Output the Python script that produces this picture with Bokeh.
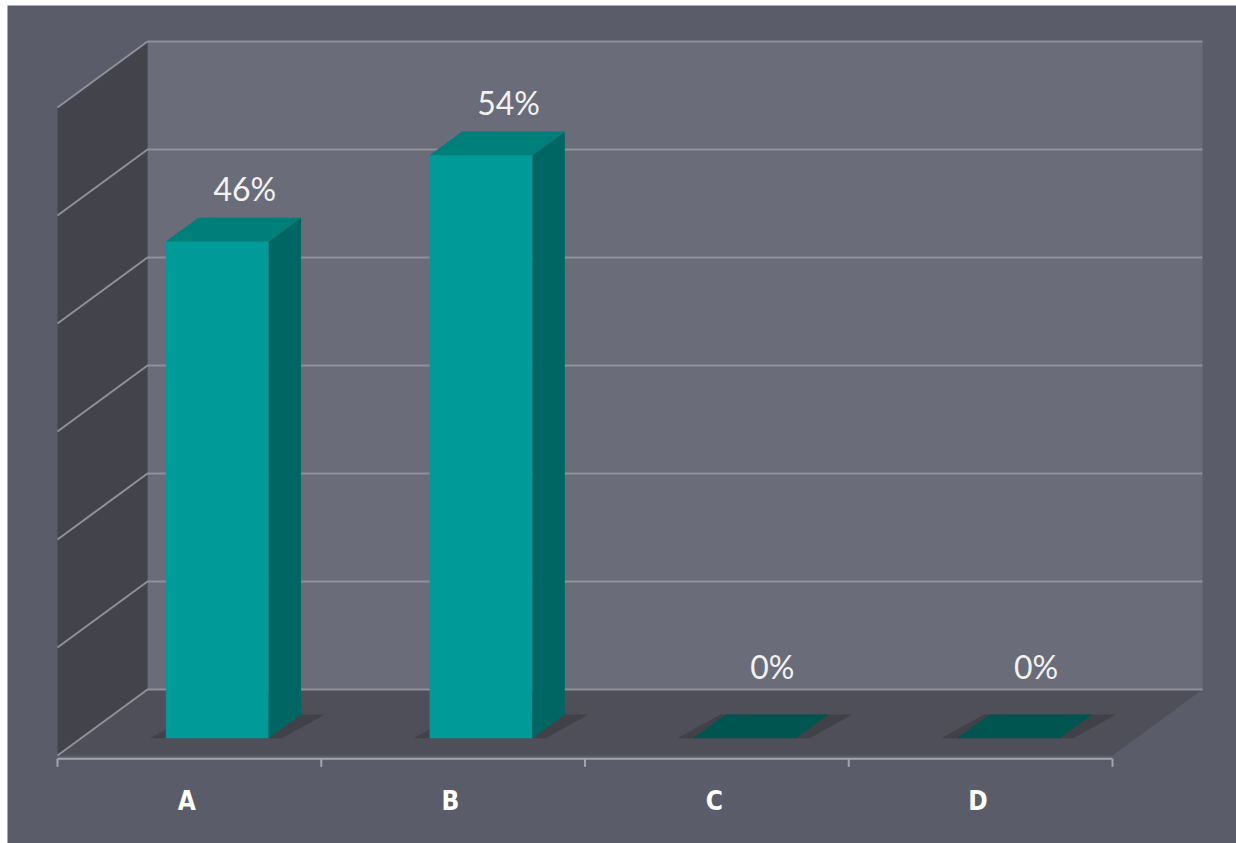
from bokeh.plotting import figure
from bokeh.models import Range1d, ColumnDataSource
from bokeh.core.properties import value
from bokeh.embed import file_html
from bokeh.resources import INLINE

# ---- data ----
categories = ["A", "B", "C", "D"]
percent_values = [46, 54, 0, 0]
value_labels = ["46%", "54%", "0%", "0%"]
grid_ticks = [0, 10, 20, 30, 40, 50, 60]
v_max = 60

# ---- projection / style constants (oblique 3D) ----
PX_PER_CAT = 263.75
PX_PER_PCT = 10.8
DEPTH_X = 90 / PX_PER_CAT      # category units per unit depth
DEPTH_Y = 66 / PX_PER_PCT      # percent units per unit depth
BAR_HALF = 0.195
BAR_SHIFT = 0.017
Z0, Z1 = 0.26, 0.62
N = len(categories)

def proj(x, v, z):
    return x + z * DEPTH_X, v + z * DEPTH_Y

def quad(pts):
    xs, ys = [], []
    for (x, v, z) in pts:
        a, b = proj(x, v, z)
        xs.append(a)
        ys.append(b)
    return xs, ys

W, H = 1236, 843
LEFT_M, TOP_M = 7, 5
x0_px, y0_px = 57, 755
x_start = (LEFT_M - x0_px) / PX_PER_CAT
x_end = (W - x0_px) / PX_PER_CAT
y_end = (y0_px - TOP_M) / PX_PER_PCT
y_start = (y0_px - H) / PX_PER_PCT

p = figure(width=W, height=H, output_backend="svg", toolbar_location=None,
           x_range=Range1d(x_start, x_end), y_range=Range1d(y_start, y_end),
           min_border_left=LEFT_M, min_border_top=TOP_M,
           min_border_right=0, min_border_bottom=0)
p.xaxis.visible = False
p.yaxis.visible = False
p.grid.visible = False
p.outline_line_color = None
p.background_fill_color = "#5b5c69"
p.border_fill_color = "#ffffff"

BG_WALL = "#6b6c79"
LEFT_WALL = "#43444b"
FLOOR = "#4e4f58"
GRID = "#8f909b"

# back wall
xs, ys = quad([(0, 0, 1), (N, 0, 1), (N, v_max, 1), (0, v_max, 1)])
p.patch(xs, ys, fill_color=BG_WALL, line_color=None)
# left wall
xs, ys = quad([(0, 0, 0), (0, 0, 1), (0, v_max, 1), (0, v_max, 0)])
p.patch(xs, ys, fill_color=LEFT_WALL, line_color=None)
# floor
xs, ys = quad([(0, 0, 0), (0, 0, 1), (N, 0, 1), (N, 0, 0)])
p.patch(xs, ys, fill_color=FLOOR, line_color=None)

# gridlines: back wall + left wall
gx, gy = [], []
for t in grid_ticks:
    a, b = quad([(0, t, 0), (0, t, 1), (N, t, 1)])
    gx.append(a)
    gy.append(b)
p.multi_line(gx, gy, line_color=GRID, line_width=2)

# shadows and bars
sh_x, sh_y = [], []
front_x, front_y, side_x, side_y = [], [], [], []
top_x, top_y, top_c = [], [], []
for i, v in enumerate(percent_values):
    c = i + 0.5 + BAR_SHIFT
    xl, xr = c - BAR_HALF, c + BAR_HALF
    a, b = quad([(xl - 0.06, 0, Z0), (xr + 0.05, 0, Z0), (xr + 0.09, 0, Z1), (xl - 0.02, 0, Z1)])
    sh_x.append(a); sh_y.append(b)
    if v > 0:
        a, b = quad([(xl, 0, Z0), (xr, 0, Z0), (xr, v, Z0), (xl, v, Z0)])
        front_x.append(a); front_y.append(b)
        a, b = quad([(xr, 0, Z0), (xr, 0, Z1), (xr, v, Z1), (xr, v, Z0)])
        side_x.append(a); side_y.append(b)
    a, b = quad([(xl, v, Z0), (xr, v, Z0), (xr, v, Z1), (xl, v, Z1)])
    top_x.append(a); top_y.append(b)
    top_c.append("#007e7a" if v > 0 else "#005550")

p.patches(sh_x, sh_y, fill_color="#3e3e46", fill_alpha=0.8, line_color=None)
p.patches(front_x, front_y, fill_color="#009b98", line_color=None)
p.patches(side_x, side_y, fill_color="#006664", line_color=None)
p.patches(top_x, top_y, fill_color=top_c, line_color=None)

# value labels
lab_src = ColumnDataSource(dict(
    x=[i + 0.71 for i in range(N)],
    y=[max(v + 6.5, 8.2) for v in percent_values],
    t=value_labels))
p.text(x="x", y="y", text="t", source=lab_src, text_align="center",
       text_baseline="middle", text_color="#f2f2f2", text_font_size="32px",
       text_font=value("Lato"))

# axis line and ticks
ax_v = -0.3
p.line([0, N], [ax_v, ax_v], line_color="#a3a4ae", line_width=2)
p.segment(x0=list(range(N + 1)), y0=[ax_v] * (N + 1),
          x1=list(range(N + 1)), y1=[ax_v - 0.75] * (N + 1),
          line_color="#a3a4ae", line_width=2)

# category labels
cat_src = ColumnDataSource(dict(x=[i + 0.49 for i in range(N)],
                                y=[-4.2] * N, t=categories))
p.text(x="x", y="y", text="t", source=cat_src, text_align="center",
       text_baseline="middle", text_color="#ffffff", text_font_size="26px",
       text_font_style="bold",
       text_font=value("Liberation Sans Narrow, DejaVu Sans Condensed, Roboto Condensed, sans-serif"))

open("out.html", "w").write(file_html(p, INLINE))
